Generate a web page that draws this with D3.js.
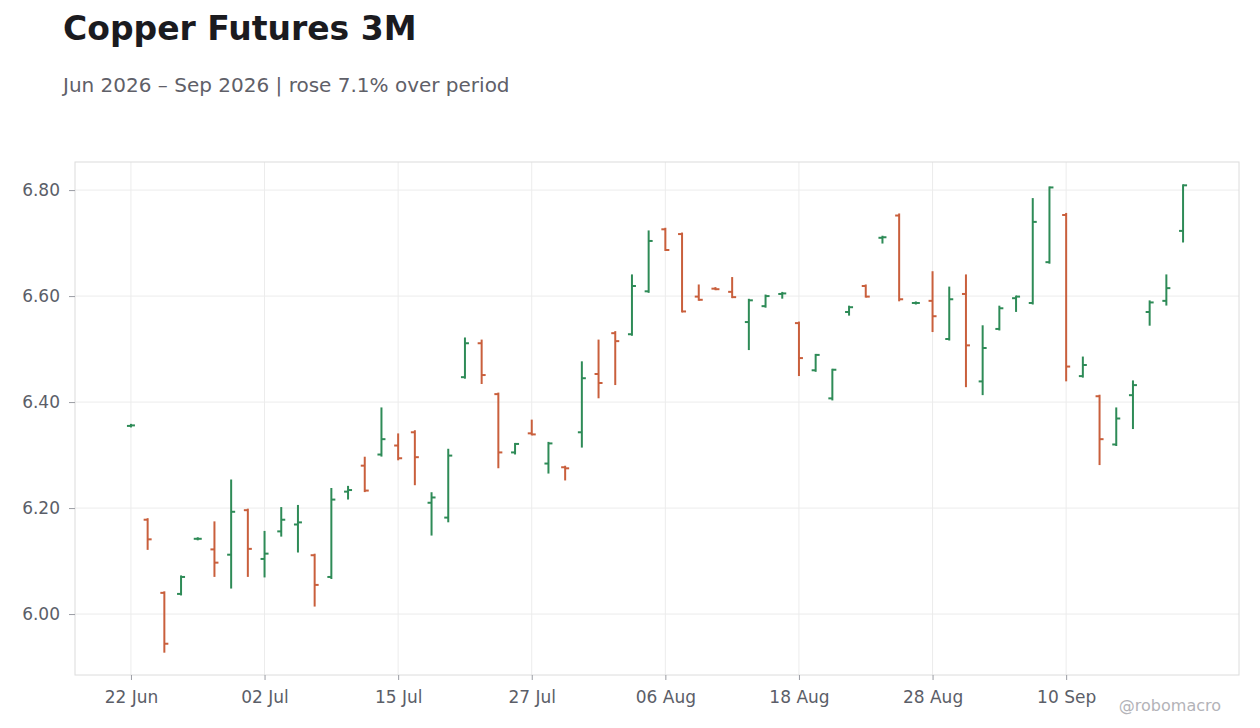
<!DOCTYPE html>
<html>
<head>
<meta charset="utf-8">
<script src="https://cdn.jsdelivr.net/npm/d3@7/dist/d3.min.js"></script>
<style>
  body { margin: 0; background: #fff; font-family: "DejaVu Sans", sans-serif; }
  .grid line { stroke: #ececec; stroke-width: 1; }
  .axis path { display: none; }
  .axis line { stroke: #9a9ca3; }
  .axis text { fill: #5b5e68; font-size: 17px; font-family: "DejaVu Sans", sans-serif; }
</style>
</head>
<body>
<svg id="chart" width="1260" height="728"></svg>
<script>
// trading days (US calendar, 03 Jul and 07 Sep closed)
var dates = ["2026-06-22","2026-06-23","2026-06-24","2026-06-25","2026-06-26","2026-06-29","2026-06-30",
  "2026-07-01","2026-07-02","2026-07-06","2026-07-07","2026-07-08","2026-07-09","2026-07-10",
  "2026-07-13","2026-07-14","2026-07-15","2026-07-16","2026-07-17","2026-07-20","2026-07-21",
  "2026-07-22","2026-07-23","2026-07-24","2026-07-27","2026-07-28","2026-07-29","2026-07-30",
  "2026-07-31","2026-08-03","2026-08-04","2026-08-05","2026-08-06","2026-08-07","2026-08-10",
  "2026-08-11","2026-08-12","2026-08-13","2026-08-14","2026-08-17","2026-08-18","2026-08-19",
  "2026-08-20","2026-08-21","2026-08-24","2026-08-25","2026-08-26","2026-08-27","2026-08-28",
  "2026-08-31","2026-09-01","2026-09-02","2026-09-03","2026-09-04","2026-09-08","2026-09-09",
  "2026-09-10","2026-09-11","2026-09-14","2026-09-15","2026-09-16","2026-09-17","2026-09-18",
  "2026-09-21"];

var open = [6.355,6.178,6.040,6.038,6.142,6.122,6.112,6.196,6.104,6.156,6.169,6.111,6.070,6.231,
  6.280,6.301,6.318,6.343,6.210,6.182,6.447,6.511,6.415,6.305,6.341,6.284,6.277,6.343,6.453,6.530,
  6.528,6.609,6.726,6.717,6.599,6.614,6.608,6.551,6.581,6.604,6.549,6.460,6.407,6.570,6.619,6.710,
  6.752,6.587,6.591,6.519,6.604,6.439,6.538,6.596,6.587,6.664,6.753,6.449,6.411,6.320,6.413,6.570,
  6.591,6.723];
var high = [6.357,6.179,6.041,6.071,6.143,6.173,6.252,6.197,6.155,6.200,6.204,6.112,6.236,6.240,
  6.295,6.388,6.339,6.345,6.228,6.310,6.520,6.516,6.416,6.321,6.365,6.323,6.278,6.475,6.516,6.532,
  6.639,6.722,6.727,6.718,6.620,6.615,6.634,6.593,6.601,6.606,6.550,6.489,6.461,6.580,6.620,6.712,
  6.754,6.588,6.645,6.616,6.639,6.543,6.580,6.599,6.783,6.805,6.755,6.484,6.412,6.388,6.439,6.590,
  6.639,6.809];
var low = [6.354,6.123,5.929,6.037,6.141,6.072,6.050,6.072,6.071,6.148,6.118,6.016,6.068,6.218,
  6.232,6.299,6.292,6.245,6.150,6.175,6.446,6.436,6.277,6.303,6.339,6.267,6.254,6.316,6.409,6.434,
  6.527,6.608,6.687,6.571,6.593,6.613,6.598,6.500,6.580,6.597,6.451,6.459,6.405,6.565,6.599,6.701,
  6.592,6.586,6.534,6.518,6.430,6.415,6.537,6.572,6.586,6.663,6.441,6.448,6.283,6.319,6.351,6.546,
  6.584,6.703];
var close = [6.356,6.141,5.944,6.070,6.142,6.097,6.193,6.123,6.114,6.178,6.173,6.055,6.216,6.234,
  6.233,6.330,6.294,6.296,6.220,6.299,6.511,6.451,6.305,6.321,6.339,6.322,6.275,6.445,6.436,6.515,
  6.619,6.704,6.687,6.571,6.593,6.613,6.598,6.592,6.600,6.605,6.483,6.489,6.461,6.579,6.599,6.711,
  6.594,6.587,6.562,6.594,6.507,6.502,6.577,6.599,6.740,6.805,6.467,6.470,6.330,6.369,6.432,6.588,
  6.615,6.809];

var title = "Copper Futures 3M";
var pct = (close[close.length - 1] / close[0] - 1) * 100;
var subtitle = "Jun 2026 \u2013 Sep 2026 | " + (pct >= 0 ? "rose " : "fell ") + Math.abs(pct).toFixed(1) + "% over period";

var upColor = "#2e8b57", downColor = "#c95f3c";

var svg = d3.select("#chart");
var margin = { top: 162, right: 21, bottom: 53, left: 75 },
  width = +svg.attr("width") - margin.left - margin.right,
  height = +svg.attr("height") - margin.top - margin.bottom;

var parse = d3.timeParse("%Y-%m-%d"), fmt = d3.timeFormat("%d %b");
var data = dates.map(function(d, i) {
  return { i: i, date: parse(d), o: open[i], h: high[i], l: low[i], c: close[i] };
});

var pad = 3.35;
var x = d3.scaleLinear().domain([-pad, data.length - 1 + pad]).range([0, width]);
var lo = d3.min(low), hi = d3.max(high), span = hi - lo;
var y = d3.scaleLinear().domain([lo - span * 0.05, hi + span * 0.05]).range([height, 0]);

svg.append("text").attr("x", 63).attr("y", 40)
  .style("font-family", "DejaVu Sans").style("font-weight", "bold").style("font-size", "33px")
  .attr("fill", "#1b1b1f").text(title);
svg.append("text").attr("x", 63).attr("y", 92)
  .style("font-family", "DejaVu Sans").style("font-size", "20px")
  .attr("fill", "#5f6068").text(subtitle);

var g = svg.append("g").attr("transform", "translate(" + margin.left + "," + margin.top + ")");

var tickIdx = d3.range(0, data.length, 8);
var yTicks = y.ticks(5);

g.append("g").attr("class", "grid").selectAll("line").data(tickIdx).enter().append("line")
  .attr("x1", function(d) { return x(d); }).attr("x2", function(d) { return x(d); })
  .attr("y1", 0).attr("y2", height);
g.append("g").attr("class", "grid").selectAll("line").data(yTicks).enter().append("line")
  .attr("x1", 0).attr("x2", width)
  .attr("y1", function(d) { return y(d); }).attr("y2", function(d) { return y(d); });

g.append("rect").attr("x", 0).attr("y", 0).attr("width", width).attr("height", height)
  .attr("fill", "none").attr("stroke", "#dcdcdc").attr("stroke-width", 1);

g.append("g").attr("class", "axis").attr("transform", "translate(0," + height + ")")
  .call(d3.axisBottom(x).tickValues(tickIdx).tickSize(5).tickPadding(11)
    .tickFormat(function(d) { return fmt(data[d].date); }));

g.append("g").attr("class", "axis")
  .call(d3.axisLeft(y).tickValues(yTicks).tickSize(6).tickPadding(9).tickFormat(d3.format(".2f")));

var bars = g.append("g").selectAll("g").data(data).enter().append("g")
  .attr("stroke", function(d) { return d.c >= d.o ? upColor : downColor; })
  .attr("stroke-width", 2);
bars.append("line")
  .attr("x1", function(d) { return x(d.i); }).attr("x2", function(d) { return x(d.i); })
  .attr("y1", function(d) { return y(d.h) - 1; }).attr("y2", function(d) { return y(d.l) + 1; });
bars.append("line")
  .attr("x1", function(d) { return x(d.i) - 4; }).attr("x2", function(d) { return x(d.i); })
  .attr("y1", function(d) { return y(d.o); }).attr("y2", function(d) { return y(d.o); });
bars.append("line")
  .attr("x1", function(d) { return x(d.i); }).attr("x2", function(d) { return x(d.i) + 4; })
  .attr("y1", function(d) { return y(d.c); }).attr("y2", function(d) { return y(d.c); });

svg.append("text").attr("x", 1221).attr("y", 711).attr("text-anchor", "end")
  .style("font-family", "DejaVu Sans").style("font-size", "16px")
  .attr("fill", "#b3b3b8").text("@robomacro");
</script>
</body>
</html>
